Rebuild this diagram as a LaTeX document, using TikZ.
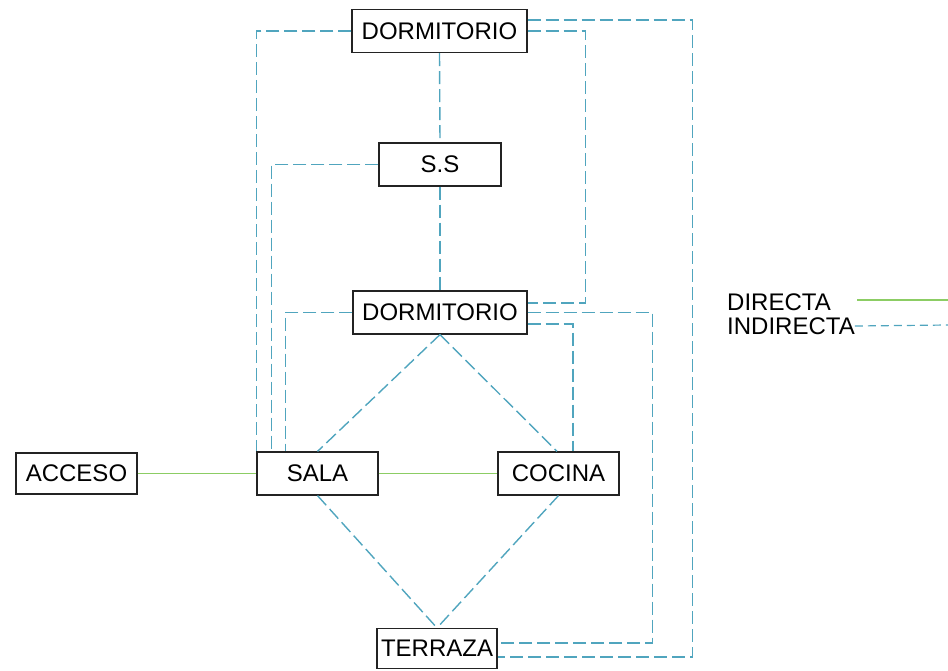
\documentclass[tikz,border=0pt]{standalone}
\usepackage{fontspec}
\setmainfont{Liberation Sans}
\definecolor{indir}{RGB}{80,165,190}
\definecolor{dir}{RGB}{140,205,100}
\definecolor{boxc}{RGB}{35,35,35}
\begin{document}
\begin{tikzpicture}[x=1pt,y=-1pt,
  room/.style={draw=boxc,line width=1.2pt,fill=white,inner sep=0pt,minimum height=43pt,font=\fontsize{24}{26}\selectfont},
  indirecta/.style={draw=indir,line width=1.4pt,dash pattern=on 13pt off 5pt},
  directa/.style={draw=dir,line width=1.5pt},
  legtext/.style={inner sep=0pt,anchor=west,font=\fontsize{24}{26}\selectfont}]
\useasboundingbox (0,0) rectangle (948,670);
\node[room,minimum width=175pt] (d1) at (439.5,31) {DORMITORIO};
\node[room,minimum width=122pt] (ss) at (440,164.5) {S.S};
\node[room,minimum width=174pt] (d2) at (440,312.5) {DORMITORIO};
\node[room,minimum width=121pt] (sala) at (317.5,473.5) {SALA};
\node[room,minimum width=121pt] (cocina) at (558.5,473.5) {COCINA};
\node[room,minimum width=121pt,minimum height=41pt] (acceso) at (76.5,473.5) {ACCESO};
\node[room,minimum width=120pt,minimum height=40pt] (terraza) at (437,648.5) {TERRAZA};
\draw[indirecta] (d1.south) -- (ss.north);
\draw[indirecta] (ss.south) -- (d2.north);
\draw[indirecta] (d1.west) -| (sala.north west);
\draw[indirecta] (ss.west) -| ([xshift=15pt]sala.north west);
\draw[indirecta] (d1.east) -- ++(58,0) |- ([yshift=9.5pt]d2.east);
\draw[indirecta] ([yshift=11pt]d1.east) -- ++(165,0) |- ([yshift=-8.5pt]terraza.east);
\draw[indirecta] (d2.west) -| ([xshift=29pt]sala.north west);
\draw[indirecta] (d2.east) -- ++(125,0) |- ([yshift=5.5pt]terraza.east);
\draw[indirecta] ([yshift=-11.5pt]d2.east) -| ([xshift=-46.5pt]cocina.north east);
\draw[indirecta] (d2.south) -- (sala.north);
\draw[indirecta] (d2.south) -- ([xshift=-1.5pt]cocina.north);
\draw[indirecta] (sala.south) -- (terraza.north);
\draw[indirecta] (cocina.south) -- (terraza.north);
\draw[directa] (acceso.east) -- (sala.west);
\draw[directa] (sala.east) -- (cocina.west);
% legend
\node[legtext] (ldir) at (727,302) {DIRECTA};
\node[legtext] (lind) at (727,326) {INDIRECTA};
\coordinate (ldirA) at (857,300);
\coordinate (ldirB) at (948,300);
\coordinate (lindB) at (948,325);
\draw[directa] (ldirA) -- (ldirB);
\draw[draw=indir,line width=1.2pt,dash pattern=on 8pt off 5pt] (lind.east) -- (lindB);
\end{tikzpicture}
\end{document}
